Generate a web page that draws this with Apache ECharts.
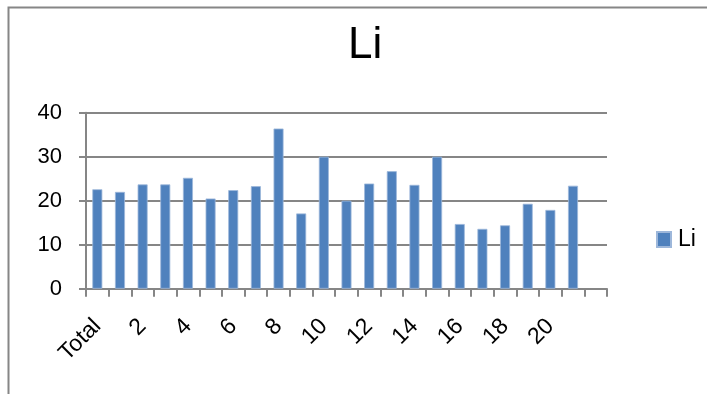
<!DOCTYPE html>
<html>
<head>
<meta charset="utf-8">
<script src="https://cdn.jsdelivr.net/npm/echarts@6/dist/echarts.min.js"></script>
<style>
  html, body { margin: 0; padding: 0; background: #fff; }
  #chart { width: 707px; height: 394px; }
</style>
</head>
<body>
<div id="chart"></div>
<script>
// Categories: the overall total followed by samples 1–21 (one trailing empty slot)
const categories = ['Total', '1', '2', '3', '4', '5', '6', '7', '8', '9', '10',
  '11', '12', '13', '14', '15', '16', '17', '18', '19', '20', '21', ''];
const liValues = [22.6, 22.0, 23.7, 23.7, 25.2, 20.5, 22.4, 23.3, 36.4, 17.1, 30.0,
  20.0, 23.9, 26.7, 23.6, 30.0, 14.7, 13.6, 14.4, 19.3, 17.9, 23.4, null];
const yTicks = { min: 0, max: 40, interval: 10 };

const font = 'Liberation Sans';
const chart = echarts.init(document.getElementById('chart'));
chart.setOption({
  animation: false,
  backgroundColor: '#fff',
  graphic: [{
    type: 'rect',
    shape: { x: 8.5, y: 7.5, width: 720, height: 400 },
    style: { fill: 'none', stroke: '#868686', lineWidth: 2 },
    silent: true
  }],
  title: {
    text: 'Li',
    left: 348,
    top: 24,
    padding: 0,
    textStyle: { fontFamily: font, fontSize: 44, fontWeight: 'normal', color: '#000' }
  },
  legend: {
    data: ['Li'],
    left: 656,
    top: 228,
    padding: 0,
    icon: 'rect',
    itemWidth: 14,
    itemHeight: 15,
    itemGap: 6,
    textStyle: { fontFamily: font, fontSize: 23, color: '#000', padding: [0, 0, 0, 2] }
  },
  grid: { left: 86, right: 100, top: 112.7, bottom: 105.3 },
  xAxis: {
    type: 'category',
    data: categories,
    axisLine: { lineStyle: { color: '#868686', width: 2 } },
    axisTick: { show: true, length: 8, interval: 0, lineStyle: { color: '#868686', width: 2 } },
    axisLabel: {
      interval: 1,
      rotate: 45,
      margin: 34,
      fontFamily: font,
      fontSize: 23,
      color: '#000'
    }
  },
  yAxis: {
    type: 'value',
    min: yTicks.min,
    max: yTicks.max,
    interval: yTicks.interval,
    axisLine: { show: true, lineStyle: { color: '#868686', width: 2 } },
    axisTick: { show: true, length: 7, lineStyle: { color: '#868686', width: 2 } },
    splitLine: { lineStyle: { color: '#868686', width: 2 } },
    axisLabel: { fontFamily: font, fontSize: 22, color: '#000', margin: 24 }
  },
  series: [{
    name: 'Li',
    type: 'bar',
    data: liValues,
    barWidth: 10,
    itemStyle: { color: '#4F81BD', borderColor: '#9DB7DA', borderWidth: 0.8 }
  }]
});
</script>
</body>
</html>
